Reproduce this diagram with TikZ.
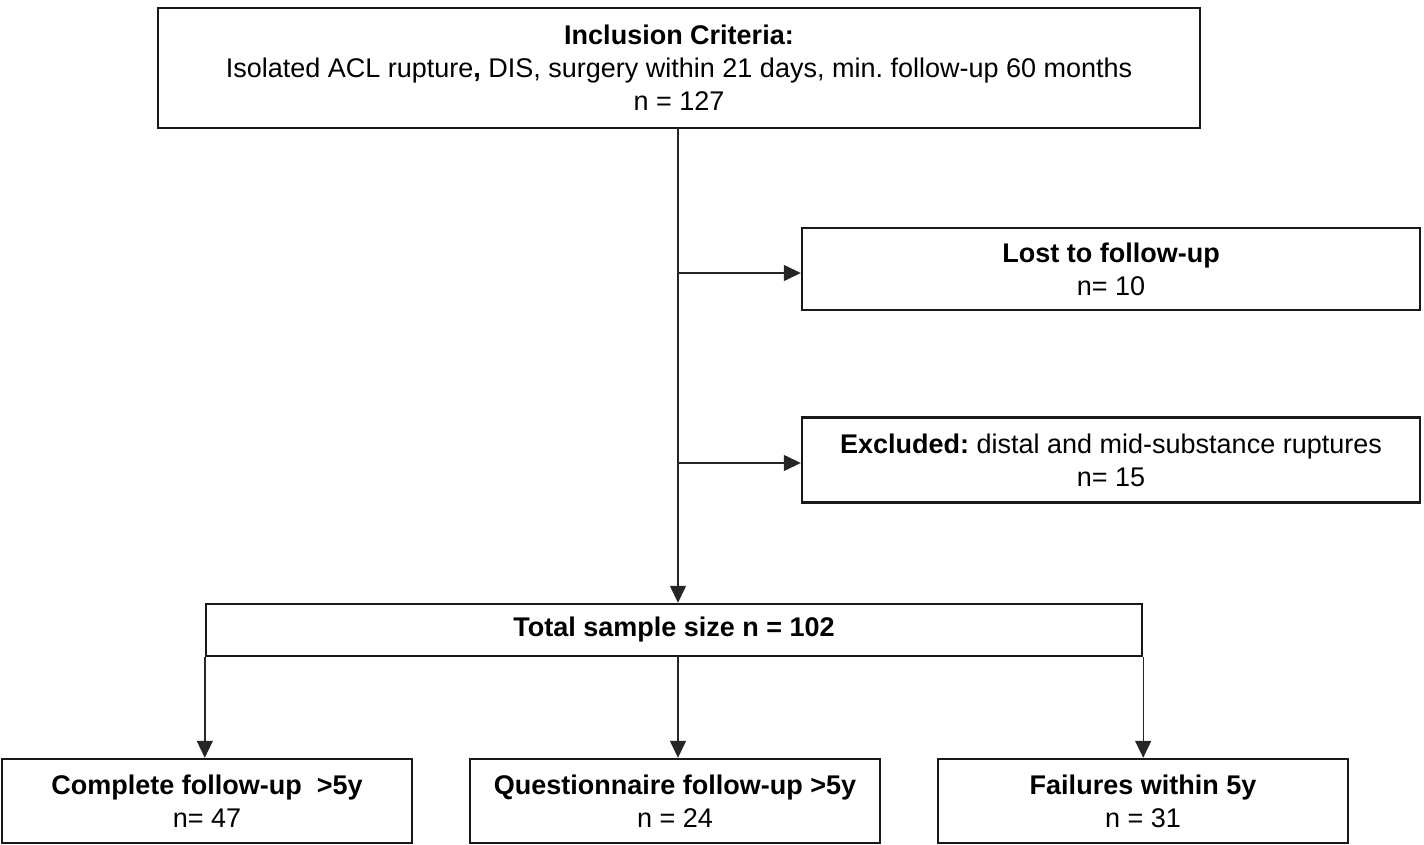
\documentclass[tikz,border=0pt]{standalone}
\usepackage{fontspec}
\setmainfont{Liberation Sans}
\usetikzlibrary{arrows.meta}
\usetikzlibrary{positioning}
\frenchspacing

\begin{document}
\begin{tikzpicture}[x=1pt,y=-1pt,
	box/.style={draw=black!90, line width=2.4pt, rectangle, inner sep=0pt, align=center,
		font=\fontsize{27}{33}\selectfont, minimum height=84},
	conn/.style={line width=1.4pt, draw=black!85},
	arr/.style={conn, -{Triangle[length=17pt,width=16pt]}}]

\useasboundingbox (0,0) rectangle (1424,844);

% Boxes
\node[box, minimum width=1042, minimum height=120] (incl) at (679,68)
	{\textbf{Inclusion Criteria:}\\
	 Isolated ACL rupture\textbf{,} DIS, surgery within 21 days, min. follow-up 60 months\\
	 n = 127};
\node[box, minimum width=618, minimum height=82] (lost) at (1111,269)
	{\textbf{Lost to follow-up}\\ n= 10};
\node[box, minimum width=618, minimum height=85] (excl) at (1111,460)
	{\textbf{Excluded:} distal and mid-substance ruptures\\ n= 15};
\node[box, minimum width=936, minimum height=52] (total) at (674,630)
	{\textbf{Total sample size n = 102}};

\node[box, minimum width=410] (compl) at (207,801)
	{\textbf{Complete follow-up \ >5y}\\ n= 47};
\node[box, minimum width=410] (quest) at (675,801)
	{\textbf{Questionnaire follow-up >5y}\\ n = 24};
\node[box, minimum width=410] (fail) at (1143,801)
	{\textbf{Failures within 5y}\\ n = 31};

% Connectors
\coordinate (top) at (678,128);
\coordinate (br1) at (678,273);
\coordinate (br2) at (678,463);
\coordinate (mid) at (678,656);

\draw[arr] (top) -- (top |- total.north);
\draw[arr] (br1) -- (lost.west |- br1);
\draw[arr] (br2) -- (excl.west |- br2);

\draw[arr] (total.south west) -- (total.south west |- compl.north);
\draw[arr] (mid) -- (mid |- quest.north);
\draw[arr] (total.south east) -- (total.south east |- fail.north);

\end{tikzpicture}
\end{document}
